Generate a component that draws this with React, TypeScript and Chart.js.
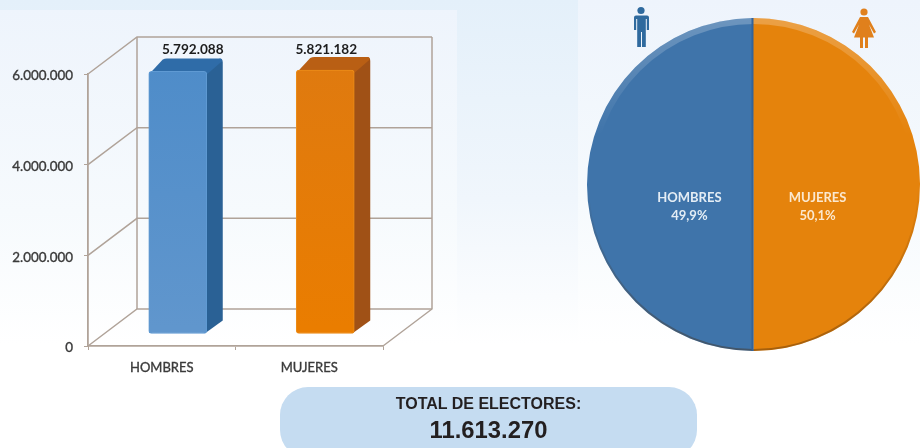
import React, { useEffect, useRef } from "react";
import { Chart, registerables } from "chart.js";

Chart.register(...registerables);

const categories = ["HOMBRES", "MUJERES"];
const voters = [5792088, 5821182];
const shares = [49.9, 50.1];
const yTicks = [0, 2000000, 4000000, 6000000];
const totalLabel = "TOTAL DE ELECTORES:";
const totalValue = 11613270;

const FONT = "Lato, 'Open Sans', sans-serif";
const LINE = "#b0a399";
const DEPTH = { dx: 49, dy: -37 };
const BAR_SHIFT = { dx: 16, dy: -12 };
const BAR_SIDE = { dx: 16, dy: -13 };
const frontColors = [["#4e8cc9", "#6096cd"], ["#df7a10", "#ea7d00"]];
const sideColors = ["#2a6195", "#a05116"];
const topColors = ["#2f6ca8", "#b95f14"];
const edgeColors = ["#5f9ad3", "#ec8c18"];
const valueLabelShift = [15, 1];
const pieColors = ["#3f74aa", "#e5830c"];
const pieTextColors = ["#e4edf5", "#fbe8cf"];

const dots = (v: number) => String(v).replace(/\B(?=(\d{3})+(?!\d))/g, ".");

const wallsPlugin = {
  id: "walls",
  beforeDatasetsDraw(chart: any) {
    const { ctx, scales, chartArea } = chart;
    const y = scales.y;
    const { left, right } = chartArea;
    const bottom = y.getPixelForValue(0);
    ctx.save();
    ctx.strokeStyle = LINE;
    ctx.lineWidth = 1.5;
    yTicks.forEach((t) => {
      const py = y.getPixelForValue(t);
      ctx.beginPath();
      ctx.moveTo(left, py);
      ctx.lineTo(left + DEPTH.dx, py + DEPTH.dy);
      ctx.lineTo(right + DEPTH.dx, py + DEPTH.dy);
      ctx.stroke();
    });
    ctx.beginPath();
    ctx.moveTo(left + DEPTH.dx, y.getPixelForValue(6000000) + DEPTH.dy);
    ctx.lineTo(left + DEPTH.dx, bottom + DEPTH.dy);
    ctx.moveTo(right + DEPTH.dx, y.getPixelForValue(6000000) + DEPTH.dy);
    ctx.lineTo(right + DEPTH.dx, bottom + DEPTH.dy);
    ctx.lineTo(right, bottom);
    ctx.stroke();
    ctx.restore();
    // the bars stand in the middle of the depth of the box
    ctx.save();
    ctx.translate(BAR_SHIFT.dx, BAR_SHIFT.dy);
    chart.getDatasetMeta(0).data.forEach((bar: any, i: number) => {
      const l = bar.x - bar.width / 2;
      const r = bar.x + bar.width / 2;
      const t = bar.y;
      const b = bar.base;
      const { dx, dy } = BAR_SIDE;
      ctx.fillStyle = sideColors[i];
      ctx.beginPath();
      ctx.moveTo(r - 2, t + 1);
      ctx.lineTo(r + dx - 3, t + dy);
      ctx.quadraticCurveTo(r + dx, t + dy, r + dx, t + dy + 4);
      ctx.lineTo(r + dx, b + dy);
      ctx.lineTo(r - 2, b);
      ctx.closePath();
      ctx.fill();
      ctx.fillStyle = topColors[i];
      ctx.beginPath();
      ctx.moveTo(l + 1, t + 2);
      ctx.lineTo(l + dx - 2, t + dy + 1);
      ctx.quadraticCurveTo(l + dx, t + dy, l + dx + 2, t + dy);
      ctx.lineTo(r + dx - 3, t + dy);
      ctx.quadraticCurveTo(r + dx, t + dy, r + dx - 1, t + dy + 3);
      ctx.lineTo(r, t + 3);
      ctx.closePath();
      ctx.fill();
    });
  },
  afterDatasetsDraw(chart: any) {
    const { ctx } = chart;
    ctx.restore();
    ctx.save();
    ctx.fillStyle = "#1d1d1d";
    ctx.font = `bold 13.6px ${FONT}`;
    ctx.textAlign = "center";
    ctx.textBaseline = "middle";
    chart.getDatasetMeta(0).data.forEach((bar: any, i: number) => {
      ctx.fillText(dots(voters[i]), bar.x + BAR_SHIFT.dx + valueLabelShift[i], 50);
    });
    ctx.restore();
  },
};

const piePlugin = {
  id: "pieFinish",
  afterDatasetsDraw(chart: any) {
    const { ctx } = chart;
    const arcs = chart.getDatasetMeta(0).data;
    const a0 = arcs[0];
    const { x, y, outerRadius: r } = a0;
    ctx.save();
    const top = ctx.createLinearGradient(0, y - r, 0, y - r * 0.3);
    top.addColorStop(0, "rgba(255,255,255,0.24)");
    top.addColorStop(0.6, "rgba(255,255,255,0.1)");
    top.addColorStop(1, "rgba(255,255,255,0)");
    ctx.strokeStyle = top;
    ctx.lineWidth = 6;
    ctx.beginPath();
    ctx.arc(x, y, r - 3, 0, Math.PI * 2);
    ctx.stroke();
    const low = ctx.createLinearGradient(0, y, 0, y + r);
    low.addColorStop(0, "rgba(70,40,10,0)");
    low.addColorStop(1, "rgba(70,40,10,0.4)");
    ctx.strokeStyle = low;
    ctx.lineWidth = 2;
    ctx.beginPath();
    ctx.arc(x, y, r - 1, 0, Math.PI * 2);
    ctx.stroke();
    ctx.strokeStyle = "#33639a";
    ctx.lineWidth = 2;
    ctx.beginPath();
    ctx.moveTo(x - 1, y - r);
    ctx.lineTo(x - 1, y + r);
    ctx.stroke();
    ctx.font = `bold 13px ${FONT}`;
    ctx.textAlign = "center";
    ctx.textBaseline = "middle";
    arcs.forEach((arc: any, i: number) => {
      const mid = (arc.startAngle + arc.endAngle) / 2;
      const px = x + Math.cos(mid) * r * 0.385;
      const py = y + 21;
      ctx.fillStyle = pieTextColors[i];
      ctx.fillText(categories[i], px, py - 8);
      ctx.fillText(`${String(shares[i]).replace(".", ",")}%`, px, py + 10);
    });
    ctx.restore();
  },
};

export default function App() {
  const barRef = useRef<HTMLCanvasElement>(null);
  const pieRef = useRef<HTMLCanvasElement>(null);

  useEffect(() => {
    document.body.style.margin = "0";
    const barCtx = barRef.current!.getContext("2d")!;
    const fronts = frontColors.map(([a, b]) => {
      const g = barCtx.createLinearGradient(0, 70, 0, 340);
      g.addColorStop(0, a);
      g.addColorStop(1, b);
      return g;
    });
    const bar = new Chart(barRef.current!, {
      type: "bar",
      data: {
        labels: categories,
        datasets: [
          {
            data: voters,
            backgroundColor: fronts,
            borderColor: edgeColors,
            borderWidth: 1,
            borderRadius: 3,
            borderSkipped: false,
            barThickness: 58,
          },
        ],
      },
      options: {
        animation: false,
        responsive: false,
        layout: { padding: { left: 0, top: 74, right: 77, bottom: 0 } },
        plugins: { legend: { display: false }, tooltip: { enabled: false } },
        scales: {
          x: {
            afterFit: (s: any) => {
              s.height = 39;
            },
            border: { color: LINE, width: 1.8 },
            grid: { drawOnChartArea: false, color: LINE, tickLength: 4 },
            ticks: {
              color: "#3a3a3a",
              font: { family: FONT, size: 13 },
              padding: 10,
              textStrokeColor: "#3a3a3a",
              textStrokeWidth: 0.35,
            },
          },
          y: {
            min: 0,
            max: 6000000,
            afterFit: (s: any) => {
              s.width = 88;
            },
            afterBuildTicks: (s: any) => {
              s.ticks = yTicks.map((value) => ({ value }));
            },
            border: { color: LINE, width: 1.8 },
            grid: { drawOnChartArea: false, color: LINE, tickLength: 4 },
            ticks: {
              color: "#3a3a3a",
              font: { family: FONT, size: 13.4, lineHeight: "4px" },
              padding: 11,
              textStrokeColor: "#3a3a3a",
              textStrokeWidth: 0.35,
              callback: (v: any) => ["", dots(Number(v))],
            },
          },
        },
      },
      plugins: [wallsPlugin],
    } as any);
    const pie = new Chart(pieRef.current!, {
      type: "pie",
      data: {
        labels: categories,
        datasets: [{ data: shares, backgroundColor: pieColors, borderWidth: 0 }],
      },
      options: {
        animation: false,
        responsive: false,
        rotation: 180,
        layout: { padding: 0 },
        plugins: { legend: { display: false }, tooltip: { enabled: false } },
      },
      plugins: [piePlugin],
    } as any);
    return () => {
      bar.destroy();
      pie.destroy();
    };
  }, []);

  const panel = (left: number, top: number, width: number): React.CSSProperties => ({
    position: "absolute",
    left,
    top,
    width,
    height: 345 - top,
    background: "linear-gradient(#eef4fc, #f6fafd 60%, #ffffff)",
  });

  return (
    <div
      style={{
        position: "absolute",
        left: 0,
        top: 0,
        width: 920,
        height: 448,
        overflow: "hidden",
        background: "linear-gradient(#e4f0fa 0px, #f0f6fc 200px, #ffffff 345px)",
      }}
    >
      <div style={panel(0, 10, 457)} />
      <div style={panel(578, 0, 342)} />
      <canvas ref={barRef} width={460} height={385} style={{ position: "absolute", left: 0, top: 0 }} />
      <canvas ref={pieRef} width={333} height={333} style={{ position: "absolute", left: 587, top: 18 }} />
      <svg width={920} height={448} style={{ position: "absolute", left: 0, top: 0 }}>
        <circle cx={641} cy={10.5} r={3.6} fill="#2f6a9e" />
        <path
          d="M635 15.5h12a2 2 0 0 1 2 2v12.5h-2.2v-11h-1v28h-3.800v-15h-1v15h-3.800v-28h-1v11h-2.200v-12.500a2 2 0 0 1 2-2z"
          fill="#2f6a9e"
        />
        <circle cx={864} cy={12} r={3.6} fill="#e0801c" />
        <path d="M860 17h8l8 15-2 1.500-5-9 5 13h-6v10.500h-3v-10.500h-2v10.500h-3v-10.500h-6l5-13-5 9-2-1.500z" fill="#e0801c" />
      </svg>
      <div
        style={{
          position: "absolute",
          left: 280,
          top: 387,
          width: 417,
          height: 71,
          borderRadius: 28,
          background: "#c5dcf1",
          color: "#231f20",
          fontFamily: "'Liberation Sans', Arial, sans-serif",
          fontWeight: 700,
          textAlign: "center",
        }}
      >
        <div style={{ position: "absolute", left: 0, right: 0, top: 8, fontSize: 16, lineHeight: "18px" }}>{totalLabel}</div>
        <div style={{ position: "absolute", left: 0, right: 0, top: 30, fontSize: 23.8, lineHeight: "26px" }}>{dots(totalValue)}</div>
      </div>
    </div>
  );
}
